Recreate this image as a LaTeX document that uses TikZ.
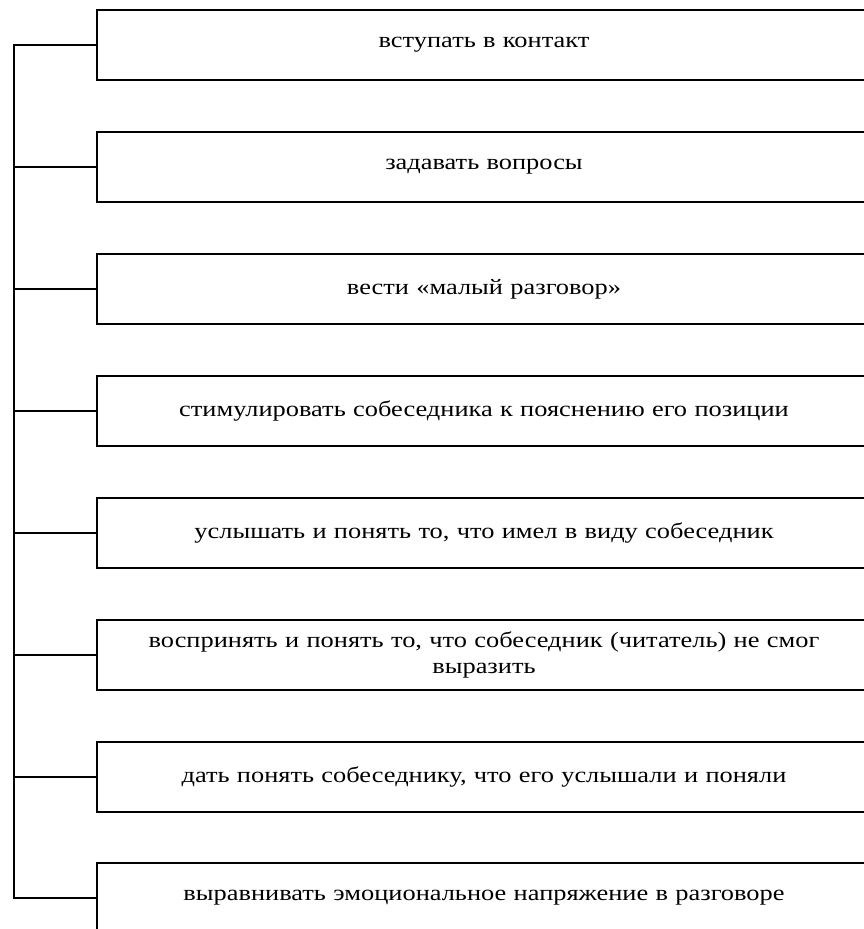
\documentclass[tikz,border=0pt]{standalone}
\usepackage{fontspec}
\setmainfont{Liberation Serif}[FakeStretch=1.2]
\begin{document}
\begin{tikzpicture}[x=0.75pt,y=-0.75pt,
  itembox/.style={draw=black, line width=1.1pt, minimum width=580.5pt, minimum height=52.5pt, inner sep=2pt, align=center, font=\fontsize{16.5}{20}\selectfont, text width=560pt},
  link/.style={line width=2.1pt}]
\clip (0,0) rectangle (864,929);
\fill[white] (0,0) rectangle (864,929);
\node[itembox] (b1) at (484,45) {вступать в контакт};
\node[itembox] (b2) at (484,167) {задавать вопросы};
\node[itembox] (b3) at (484,289) {вести «малый разговор»};
\node[itembox] (b4) at (484,411) {стимулировать собеседника к пояснению его позиции};
\node[itembox] (b5) at (484,533) {услышать и понять то, что имел в виду собеседник};
\node[itembox] (b6) at (484,655) {воспринять и понять то, что собеседник (читатель) не смог\\выразить};
\node[itembox] (b7) at (484,777) {дать понять собеседнику, что его услышали и поняли};
\node[itembox] (b8) at (484,898) {выравнивать эмоциональное напряжение в разговоре};
\coordinate (top) at (14,44);
\coordinate (bot) at (14,899);
\draw[link] (top) -- (bot);
\foreach \b in {b1,b2,b3,b4,b5,b6,b7,b8}{
  \draw[link] (\b.west) -- (top |- \b.west);
}
\end{tikzpicture}
\end{document}
